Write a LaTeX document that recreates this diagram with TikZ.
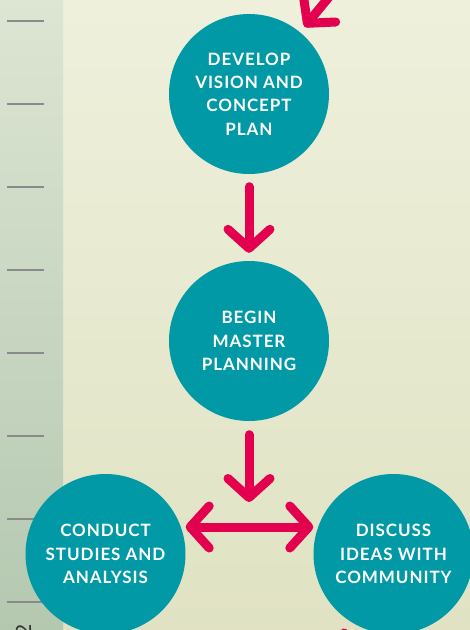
\documentclass[tikz,border=0pt]{standalone}
\usepackage{fontspec}
\setmainfont{Lato}
\newfontfamily\phasefont[LetterSpace=5.5]{Lato}
\usetikzlibrary{arrows.meta}
\definecolor{phaseteal}{HTML}{0099A5}
\definecolor{arrowred}{HTML}{E2004F}
\definecolor{bgtop}{HTML}{EEF0DC}
\definecolor{bgbottom}{HTML}{E0E2C3}
\definecolor{striptop}{HTML}{DDE5D3}
\definecolor{stripbottom}{HTML}{B4C8B0}
\definecolor{tickgray}{HTML}{8A8A8A}
\tikzset{
  barb/.tip={Straight Barb[length=19pt,width=42pt,round]},
  phase/.style={circle, fill=phaseteal, minimum size=160pt, inner sep=0pt, text=white, align=center, font=\phasefont\bfseries\fontsize{17}{23.3}\selectfont},
  flow/.style={draw=arrowred, line width=9pt, line cap=round, -barb},
  tick/.style={draw=tickgray, line width=2.5pt},
}
\begin{document}
\begin{tikzpicture}[x=1pt,y=-1pt]
\useasboundingbox (0,0) rectangle (470,630);
\clip (0,0) rectangle (470,630);
% backdrop and ruler strip
\shade[top color=bgtop, bottom color=bgbottom] (0,0) rectangle (470,630);
\shade[top color=striptop, bottom color=stripbottom] (0,0) rectangle (63,630);
\foreach \y in {21,104,...,602}
  \draw[tick] (7,\y) -- (44,\y);
\node[rotate=90, anchor=base east, inner sep=0pt, text=black!80, font=\fontsize{21}{21}\selectfont] (pagenum) at (31,624) {2};
% phases
\node[phase] (develop) at (249,94) {DEVELOP\\VISION AND\\CONCEPT\\PLAN};
\node[phase] (begin) at (249,341) {BEGIN\\MASTER\\PLANNING};
\node[phase] (conduct) at (105.5,554) {CONDUCT\\STUDIES AND\\ANALYSIS};
\node[phase] (discuss) at (393.5,554) {DISCUSS\\IDEAS WITH\\COMMUNITY};
\coordinate (previous) at (353,-32);
\coordinate (merge) at (249,502);
\coordinate (next) at (287,724);
% arrows
\draw[flow, shorten >=7pt] (previous) -- (develop);
\draw[flow, shorten <=12.5pt, shorten >=8pt] (develop) -- (begin);
\draw[flow, shorten <=13.5pt] (begin) -- (merge);
\draw[flow, barb-barb] ([yshift=27pt]conduct.east) -- ([yshift=27pt]discuss.west);
\draw[flow, shorten <=13pt] (discuss) -- (next);
\end{tikzpicture}
\end{document}
